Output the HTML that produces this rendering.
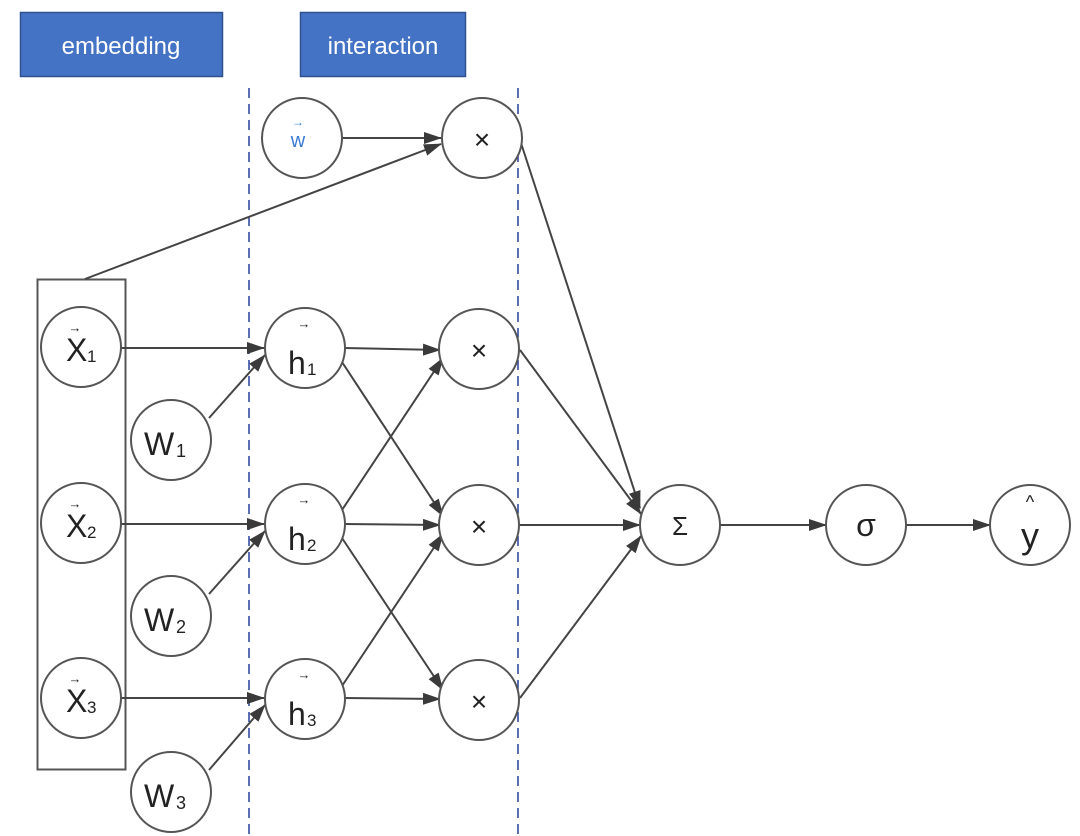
<!DOCTYPE html>
<html><head><meta charset="utf-8"><style>
html,body{margin:0;padding:0;background:#fff;}
svg{display:block;}
text{font-family:"Liberation Sans","DejaVu Sans",sans-serif;}
</style></head><body>
<svg width="1080" height="836" viewBox="0 0 1080 836" xmlns="http://www.w3.org/2000/svg">
<defs>
<marker id="b" viewBox="0 0 18 12" refX="17" refY="6" markerWidth="18" markerHeight="12" orient="auto" markerUnits="userSpaceOnUse">
<path d="M0,0 L18,6 L0,12 z" fill="#3a3a3a"/></marker>
</defs>
<rect x="20.5" y="12.5" width="202" height="64" fill="#4472C4" stroke="#2F528F" stroke-width="1.5"/>
<text x="121" y="54" font-size="24" fill="#fff" text-anchor="middle">embedding</text>
<rect x="300.5" y="12.5" width="165" height="64" fill="#4472C4" stroke="#2F528F" stroke-width="1.5"/>
<text x="383" y="54" font-size="24" fill="#fff" text-anchor="middle">interaction</text>
<line x1="249" y1="88" x2="249" y2="836" stroke="#23409a" stroke-width="1.5" stroke-dasharray="10,6"/>
<line x1="518" y1="88" x2="518" y2="836" stroke="#23409a" stroke-width="1.5" stroke-dasharray="10,6"/>
<rect x="37.5" y="279.5" width="88" height="490" fill="none" stroke="#555" stroke-width="2"/>
<g stroke="#444" stroke-width="2" fill="none" marker-end="url(#b)">
<line x1="342" y1="138" x2="441" y2="138"/>
<line x1="85" y1="279" x2="441" y2="144"/>
<line x1="121" y1="348" x2="264" y2="348"/>
<line x1="121" y1="524" x2="264" y2="524"/>
<line x1="121" y1="698" x2="264" y2="698"/>
<line x1="209" y1="418" x2="265" y2="355"/>
<line x1="209" y1="594" x2="265" y2="531"/>
<line x1="209" y1="770" x2="265" y2="705"/>
<line x1="344" y1="348" x2="440" y2="350"/>
<line x1="344" y1="524" x2="440" y2="525"/>
<line x1="344" y1="698" x2="440" y2="699"/>
<line x1="342" y1="362" x2="443" y2="516"/>
<line x1="342" y1="510" x2="443" y2="358"/>
<line x1="342" y1="538" x2="443" y2="690"/>
<line x1="342" y1="686" x2="443" y2="534"/>
<line x1="520" y1="140" x2="640" y2="508"/>
<line x1="520" y1="350" x2="641" y2="514"/>
<line x1="520" y1="525" x2="640" y2="525"/>
<line x1="520" y1="698" x2="641" y2="536"/>
<line x1="719" y1="525" x2="826" y2="525"/>
<line x1="906" y1="525" x2="990" y2="525"/>
</g>
<g stroke="#555" stroke-width="2" fill="#fff">
<circle cx="302" cy="138" r="40"/>
<circle cx="482" cy="138" r="40"/>
<circle cx="81" cy="347" r="40"/>
<circle cx="81" cy="523" r="40"/>
<circle cx="81" cy="698" r="40"/>
<circle cx="171" cy="440" r="40"/>
<circle cx="171" cy="616" r="40"/>
<circle cx="171" cy="792" r="40"/>
<circle cx="305" cy="348" r="40"/>
<circle cx="305" cy="524" r="40"/>
<circle cx="305" cy="699" r="40"/>
<circle cx="479" cy="349" r="40"/>
<circle cx="479" cy="525" r="40"/>
<circle cx="479" cy="700" r="40"/>
<circle cx="680" cy="525" r="40"/>
<circle cx="866" cy="525" r="40"/>
<circle cx="1030" cy="525" r="40"/>
</g>
<g fill="#222">
<text x="298" y="147" font-size="20" fill="#3a7bd5" text-anchor="middle">w</text>
<text x="298" y="126" font-size="12" fill="#3a7bd5" text-anchor="middle">→</text>
<text x="482" y="149" font-size="28" text-anchor="middle">×</text>
<text x="479" y="360" font-size="28" text-anchor="middle">×</text>
<text x="479" y="536" font-size="28" text-anchor="middle">×</text>
<text x="479" y="711" font-size="28" text-anchor="middle">×</text>
<g font-size="32">
<text x="66" y="361">X</text><text x="87" y="362" font-size="17">1</text>
<text x="66" y="537">X</text><text x="87" y="538" font-size="17">2</text>
<text x="66" y="712">X</text><text x="87" y="713" font-size="17">3</text>
<text x="144" y="455">W</text><text x="176" y="457" font-size="18">1</text>
<text x="144" y="631">W</text><text x="176" y="633" font-size="18">2</text>
<text x="144" y="807">W</text><text x="176" y="809" font-size="18">3</text>
<text x="288" y="374">h</text><text x="307" y="375" font-size="17">1</text>
<text x="288" y="550">h</text><text x="307" y="551" font-size="17">2</text>
<text x="288" y="725">h</text><text x="307" y="726" font-size="17">3</text>
</g>
<g font-size="13" text-anchor="middle">
<text x="75" y="332">→</text><text x="75" y="508">→</text><text x="75" y="683">→</text>
<text x="304" y="328">→</text><text x="304" y="504">→</text><text x="304" y="679">→</text>
</g>
<text x="680" y="535" font-size="26" text-anchor="middle">Σ</text>
<text x="866" y="536" font-size="32" text-anchor="middle">σ</text>
<text x="1030" y="548" font-size="36" text-anchor="middle">y</text>
<text x="1030" y="508" font-size="18" text-anchor="middle">^</text>
</g>
</svg>
</body></html>
